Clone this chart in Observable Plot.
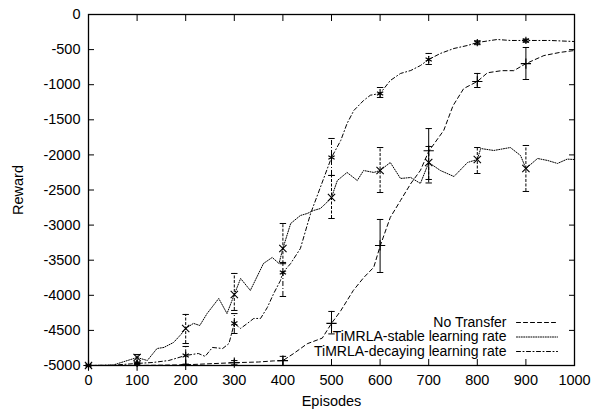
<!DOCTYPE html>
<html>
<head>
<meta charset="utf-8">
<script src="https://cdn.jsdelivr.net/npm/d3@7"></script>
<script src="https://cdn.jsdelivr.net/npm/@observablehq/plot@0.6"></script>
<style>
  html, body { margin: 0; padding: 0; background: #fff; }
  #chart svg { display: block; }
</style>
</head>
<body>
<div id="chart"></div>
<script>
// ---- Data ----
const seriesNames = ["No Transfer", "TiMRLA-stable learning rate", "TiMRLA-decaying learning rate"];

const noTransferEp  = [0, 50, 100, 150, 200, 250, 300, 350, 380, 400, 422, 450, 481, 500, 519, 545, 566, 587, 600, 621, 642, 663, 683, 700, 731, 750, 772, 800, 821, 850, 875, 900, 937, 970, 1000];
const noTransferVal = [-5000, -5000, -5000, -4995, -4990, -4975, -4960, -4950, -4935, -4930, -4830, -4690, -4610, -4400, -4220, -3930, -3750, -3600, -3300, -2890, -2650, -2410, -2220, -1950, -1650, -1300, -1055, -954, -830, -800, -800, -700, -585, -540, -513];

const stableEp  = [0, 50, 100, 121, 141, 155, 175, 190, 200, 216, 229, 244, 268, 285, 300, 313, 333, 360, 378, 392, 400, 416, 436, 450, 463, 477, 490, 500, 512, 532, 553, 566, 587, 600, 621, 642, 663, 683, 700, 724, 752, 780, 800, 807, 834, 868, 889, 900, 924, 945, 965, 985, 1000];
const stableVal = [-5000, -4995, -4886, -4929, -4758, -4743, -4672, -4560, -4472, -4400, -4430, -4260, -4045, -4260, -3989, -3760, -3931, -3547, -3461, -3547, -3333, -2977, -2863, -2835, -2792, -2764, -2680, -2607, -2365, -2250, -2365, -2222, -2250, -2222, -2108, -2336, -2322, -2407, -2108, -2222, -2308, -2108, -2066, -1909, -1937, -1895, -2009, -2194, -2051, -2080, -2122, -2060, -2066];

const decayEp  = [0, 50, 100, 132, 165, 200, 226, 240, 255, 276, 289, 300, 313, 327, 340, 354, 368, 381, 395, 400, 416, 436, 457, 477, 500, 519, 532, 546, 566, 580, 600, 621, 642, 663, 683, 700, 724, 752, 780, 800, 841, 868, 900, 950, 1000];
const decayVal = [-5000, -4995, -4971, -4957, -4929, -4857, -4829, -4870, -4743, -4758, -4687, -4400, -4472, -4400, -4330, -4330, -4173, -3975, -3789, -3675, -3547, -3333, -2835, -2464, -2037, -1795, -1553, -1367, -1225, -1150, -1125, -940, -840, -798, -727, -641, -555, -484, -441, -399, -356, -370, -370, -370, -385];

// error bar points (every 100 episodes)
const errEp = [0, 100, 200, 300, 400, 500, 600, 700, 800, 900];
const noTransferMean = [-5000, -5000, -4990, -4960, -4930, -4400, -3290, -1940, -954, -700];
const noTransferLo   = [-5000, -5000, -5000, -4990, -5000, -4550, -3675, -2400, -1040, -926];
const noTransferHi   = [-5000, -5000, -4980, -4930, -4870, -4230, -2920, -1625, -840, -470];

const stableMean = [-5000, -4886, -4472, -3989, -3333, -2607, -2222, -2108, -2066, -2194];
const stableLo   = [-5000, -4971, -4687, -4216, -3550, -2906, -2536, -2350, -2265, -2521];
const stableHi   = [-5000, -4843, -4273, -3689, -2977, -2293, -1895, -1880, -1895, -1866];

const decayMean = [-5000, -4971, -4857, -4400, -3675, -2037, -1125, -641, -399, -370];
const decayLo   = [-5000, -4990, -4990, -4544, -4017, -2293, -1182, -712, -430, -395];
const decayHi   = [-5000, -4950, -4729, -4260, -3532, -1766, -1040, -555, -375, -350];

const xTicks = [0, 100, 200, 300, 400, 500, 600, 700, 800, 900, 1000];
const yTicks = [0, -500, -1000, -1500, -2000, -2500, -3000, -3500, -4000, -4500, -5000];

// ---- Build tables ----
const lineData = [
  ...noTransferEp.map((x, i) => ({series: seriesNames[0], x, y: noTransferVal[i]})),
  ...stableEp.map((x, i) => ({series: seriesNames[1], x, y: stableVal[i]})),
  ...decayEp.map((x, i) => ({series: seriesNames[2], x, y: decayVal[i]}))
];
const errData = [
  ...errEp.map((x, i) => ({series: seriesNames[0], x, y: noTransferMean[i], lo: noTransferLo[i], hi: noTransferHi[i]})),
  ...errEp.map((x, i) => ({series: seriesNames[1], x, y: stableMean[i], lo: stableLo[i], hi: stableHi[i]})),
  ...errEp.map((x, i) => ({series: seriesNames[2], x, y: decayMean[i], lo: decayLo[i], hi: decayHi[i]}))
];

const dashes = {
  [seriesNames[0]]: "4,3",
  [seriesNames[1]]: "1,1.4",
  [seriesNames[2]]: "4,2.5,1,2.5"
};
const markers = {
  [seriesNames[0]]: d3.symbolPlus,
  [seriesNames[1]]: d3.symbolTimes,
  [seriesNames[2]]: d3.symbolAsterisk
};

// custom shapes
const capSymbol = {draw(ctx, size) { const w = 3.2; ctx.moveTo(-w, 0); ctx.lineTo(w, 0); }};
const lineShape = {draw(ctx, l) { ctx.moveTo(0, 0); ctx.lineTo(0, -l); }};

const font = "Liberation Sans, Arial, Helvetica, sans-serif";

const marks = [];
// lines
for (const s of seriesNames) {
  marks.push(Plot.line(lineData.filter(d => d.series === s), {
    x: "x", y: "y", stroke: "black", strokeWidth: 1, strokeDasharray: dashes[s]
  }));
}
// error bars
for (const s of seriesNames) {
  const pts = errData.filter(d => d.series === s);
  marks.push(Plot.ruleX(pts, {x: "x", y1: "lo", y2: "hi", stroke: "black", strokeWidth: 1,
    strokeDasharray: s === seriesNames[0] ? null : (s === seriesNames[1] ? "3,1.5" : "5,2,1,2")}));
  marks.push(Plot.dot(pts, {x: "x", y: "lo", symbol: capSymbol, r: 3, stroke: "black", strokeWidth: 1}));
  marks.push(Plot.dot(pts, {x: "x", y: "hi", symbol: capSymbol, r: 3, stroke: "black", strokeWidth: 1}));
  marks.push(Plot.dot(pts, {x: "x", y: "y", symbol: markers[s], r: 3.4, stroke: "black", strokeWidth: 1.1, fill: "none"}));
}

// inward ticks on all four sides
marks.push(Plot.axisX(xTicks, {anchor: "bottom", tickSize: 6, dy: -6, tickFormat: () => "", label: null}));
marks.push(Plot.axisX(xTicks, {anchor: "top", tickSize: 6, dy: 6, tickFormat: () => "", label: null}));
marks.push(Plot.axisY(yTicks, {anchor: "left", tickSize: 6, dx: 6, tickFormat: () => "", label: null}));
marks.push(Plot.axisY(yTicks, {anchor: "right", tickSize: 6, dx: -6, tickFormat: () => "", label: null}));
// labels
marks.push(Plot.axisX(xTicks, {anchor: "bottom", tickSize: 0, tickPadding: 9, tickFormat: d => String(d),
  label: "Episodes", labelAnchor: "center", labelArrow: false, labelOffset: 40}));
marks.push(Plot.axisY(yTicks, {anchor: "left", tickSize: 0, tickPadding: 8, tickFormat: d => String(d),
  label: "Reward", labelAnchor: "center", labelArrow: false, labelOffset: 76}));

marks.push(Plot.frame({stroke: "black", strokeWidth: 1.3}));

// legend (inside, bottom-right)
const legendDy = [-43, -28.5, -14];
seriesNames.forEach((s, i) => {
  marks.push(Plot.text([s], {text: d => d, frameAnchor: "bottom-right", dx: -68, dy: legendDy[i],
    textAnchor: "end", lineAnchor: "middle", fill: "black", fontSize: 14}));
  marks.push(Plot.vector([s], {frameAnchor: "bottom-right", dx: -58, dy: legendDy[i], rotate: 90,
    length: 41, anchor: "start", shape: lineShape, stroke: "black", strokeWidth: 1, strokeDasharray: dashes[s]}));
});

const chart = Plot.plot({
  width: 594,
  height: 409,
  marginLeft: 88,
  marginRight: 20,
  marginTop: 14,
  marginBottom: 44,
  style: {fontFamily: font, fontSize: "14.5px", color: "black", background: "white"},
  x: {domain: [0, 1000]},
  y: {domain: [-5000, 0]},
  marks
});
document.getElementById("chart").appendChild(chart);
</script>
</body>
</html>
